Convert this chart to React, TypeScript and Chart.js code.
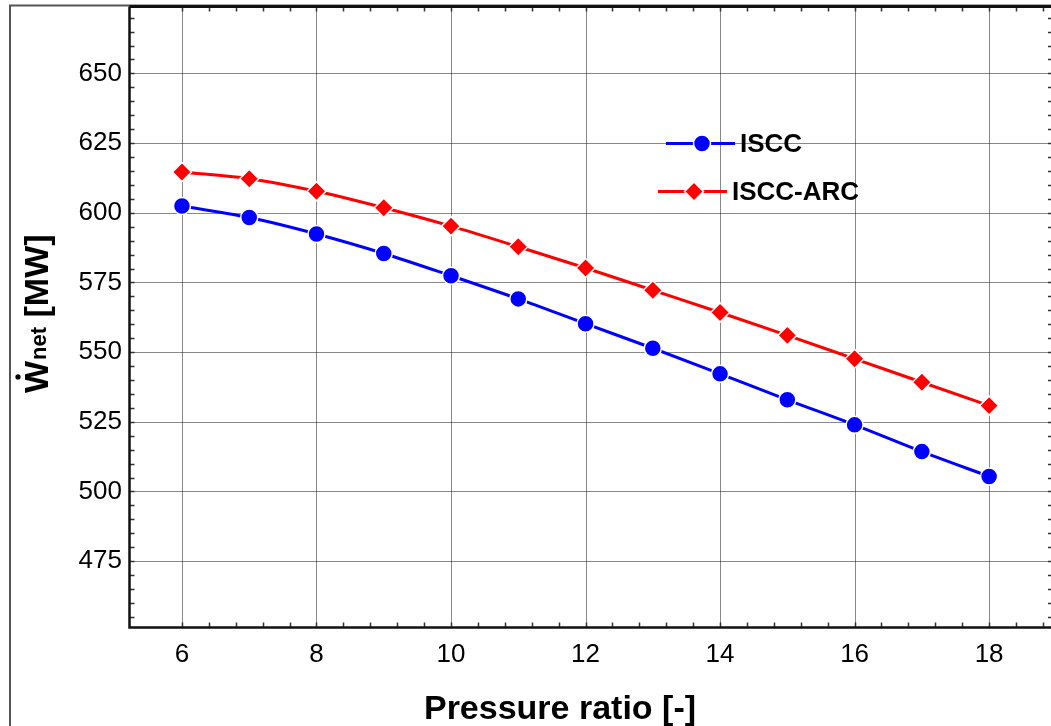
import React, { useEffect, useRef } from 'react';
import { Chart, registerables } from 'chart.js';

Chart.register(...registerables);

// ---- data ----
const pressureRatio = [6, 7, 8, 9, 10, 11, 12, 13, 14, 15, 16, 17, 18];
const isccValues = [602.4, 598.3, 592.4, 585.4, 577.4, 569.1, 560.2, 551.4, 542.2, 532.9, 523.9, 514.3, 505.4];
const isccArcValues = [614.6, 612.2, 607.7, 601.8, 595.2, 587.8, 580.2, 572.2, 564.2, 556.0, 547.6, 539.2, 530.8];
const seriesLabels = ['ISCC', 'ISCC-ARC'];
const xTickValues = [6, 8, 10, 12, 14, 16, 18];
const yTickValues = [475, 500, 525, 550, 575, 600, 625, 650];
const xMinorStep = 0.4;
const yMinorStep = 5;
const xTitle = 'Pressure ratio [-]';
const yTitleMain = 'W';
const yTitleSub = 'net';
const yTitleUnit = ' [MW]';

const FONT = "'Liberation Sans', Arial, Helvetica, sans-serif";

const decorPlugin = {
  id: 'decor',
  beforeDatasetsDraw(chart: any) {
    const { ctx, chartArea: ca, scales } = chart;
    const x = scales.x;
    const y = scales.y;
    ctx.save();
    ctx.strokeStyle = '#111';
    ctx.lineWidth = 1;
    ctx.setLineDash([1, 1]);
    for (const v of xTickValues) {
      const px = Math.round(x.getPixelForValue(v)) + 0.5;
      ctx.beginPath();
      ctx.moveTo(px, ca.top);
      ctx.lineTo(px, ca.bottom);
      ctx.stroke();
    }
    for (const v of yTickValues) {
      const py = Math.round(y.getPixelForValue(v)) + 0.5;
      ctx.beginPath();
      ctx.moveTo(ca.left, py);
      ctx.lineTo(ca.right, py);
      ctx.stroke();
    }
    ctx.restore();
  },
  afterDatasetsDraw(chart: any) {
    const { ctx, chartArea: ca, scales } = chart;
    const x = scales.x;
    const y = scales.y;
    ctx.save();
    ctx.setLineDash([]);

    // minor ticks
    ctx.strokeStyle = '#333';
    ctx.lineWidth = 1.5;
    const tl = 5;
    for (let v = xTickValues[0]; v <= x.max + 1e-9; v += xMinorStep) {
      const px = Math.round(x.getPixelForValue(v)) + 0.5;
      ctx.beginPath();
      ctx.moveTo(px, ca.bottom);
      ctx.lineTo(px, ca.bottom - tl);
      ctx.moveTo(px, ca.top);
      ctx.lineTo(px, ca.top + tl);
      ctx.stroke();
    }
    for (let v = Math.ceil(y.min / yMinorStep) * yMinorStep; v <= y.max; v += yMinorStep) {
      const py = Math.round(y.getPixelForValue(v)) + 0.5;
      ctx.beginPath();
      ctx.moveTo(ca.left, py);
      ctx.lineTo(ca.left + tl, py);
      ctx.moveTo(ca.right, py);
      ctx.lineTo(ca.right - 3, py);
      ctx.stroke();
    }

    // outer frame
    ctx.strokeStyle = '#555';
    ctx.lineWidth = 2;
    ctx.beginPath();
    ctx.moveTo(10, 726);
    ctx.lineTo(10, 5.5);
    ctx.lineTo(1051, 5.5);
    ctx.stroke();

    // axes lines
    ctx.strokeStyle = '#111';
    ctx.lineWidth = 3;
    ctx.beginPath();
    ctx.moveTo(ca.left, ca.top);
    ctx.lineTo(ca.right, ca.top);
    ctx.stroke();
    ctx.lineWidth = 2.5;
    ctx.beginPath();
    ctx.moveTo(ca.left, ca.top);
    ctx.lineTo(ca.left, ca.bottom);
    ctx.lineTo(ca.right, ca.bottom);
    ctx.stroke();

    // legend
    const legendPos = [
      { lx0: 666, lx1: 735, mx: 702, ly: 143.5, tx: 740 },
      { lx0: 658, lx1: 727, mx: 694, ly: 191.5, tx: 732 },
    ];
    chart.data.datasets.forEach((ds: any, i: number) => {
      const p = legendPos[i];
      ctx.strokeStyle = ds.borderColor;
      ctx.lineWidth = ds.borderWidth;
      ctx.beginPath();
      ctx.moveTo(p.lx0, p.ly);
      ctx.lineTo(p.lx1, p.ly);
      ctx.stroke();
      ctx.fillStyle = ds.pointBackgroundColor;
      ctx.strokeStyle = '#fff';
      ctx.lineWidth = 1.5;
      ctx.beginPath();
      if (ds.pointStyle === 'rectRot') {
        const r = ds.pointRadius;
        ctx.moveTo(p.mx, p.ly - r);
        ctx.lineTo(p.mx + r, p.ly);
        ctx.lineTo(p.mx, p.ly + r);
        ctx.lineTo(p.mx - r, p.ly);
        ctx.closePath();
      } else {
        ctx.arc(p.mx, p.ly, ds.pointRadius, 0, Math.PI * 2);
      }
      ctx.fill();
      ctx.stroke();
      ctx.fillStyle = '#000';
      ctx.font = `bold 26px ${FONT}`;
      ctx.textAlign = 'left';
      ctx.textBaseline = 'middle';
      ctx.fillText(ds.label, p.tx, p.ly + 1);
    });

    // x title
    ctx.fillStyle = '#000';
    ctx.font = `bold 34px ${FONT}`;
    ctx.textAlign = 'center';
    ctx.textBaseline = 'alphabetic';
    ctx.fillText(xTitle, 560, 719);

    // y title (rotated)
    ctx.save();
    ctx.translate(48, 393);
    ctx.rotate(-Math.PI / 2);
    ctx.textAlign = 'left';
    ctx.textBaseline = 'alphabetic';
    ctx.font = `bold 34px ${FONT}`;
    ctx.fillText(yTitleMain, 0, 0);
    const wW = ctx.measureText(yTitleMain).width;
    ctx.beginPath();
    ctx.arc(wW * 0.5, -30, 2.6, 0, Math.PI * 2);
    ctx.fill();
    ctx.font = `bold 22px ${FONT}`;
    ctx.fillText(yTitleSub, wW + 1, -2);
    const wSub = ctx.measureText(yTitleSub).width;
    ctx.font = `bold 34px ${FONT}`;
    ctx.fillText(yTitleUnit, wW + 1 + wSub, 0);
    ctx.restore();

    ctx.restore();
  },
};

export default function App() {
  const ref = useRef<HTMLCanvasElement>(null);

  useEffect(() => {
    if (!ref.current) return;
    const chart = new Chart(ref.current, {
      type: 'line',
      data: {
        datasets: [
          {
            label: seriesLabels[0],
            data: pressureRatio.map((p, i) => ({ x: p, y: isccValues[i] })),
            borderColor: '#0000ff',
            backgroundColor: '#0000ff',
            borderWidth: 3,
            pointStyle: 'circle',
            pointRadius: 8.5,
            pointBackgroundColor: '#0000ff',
            pointBorderColor: '#ffffff',
            pointBorderWidth: 1.5,
            cubicInterpolationMode: 'monotone',
            fill: false,
          },
          {
            label: seriesLabels[1],
            data: pressureRatio.map((p, i) => ({ x: p, y: isccArcValues[i] })),
            borderColor: '#ff0000',
            backgroundColor: '#ff0000',
            borderWidth: 3,
            pointStyle: 'rectRot',
            pointRadius: 9.5,
            pointBackgroundColor: '#ff0000',
            pointBorderColor: '#ffffff',
            pointBorderWidth: 1.5,
            cubicInterpolationMode: 'monotone',
            fill: false,
          },
        ],
      },
      options: {
        responsive: false,
        animation: false,
        devicePixelRatio: 1,
        layout: { autoPadding: false, padding: { left: 9, top: 6.5, right: 0, bottom: 0 } },
        plugins: { legend: { display: false }, tooltip: { enabled: false }, title: { display: false } },
        scales: {
          x: {
            type: 'linear',
            min: 5.22,
            max: 18.92,
            grid: { display: false, drawTicks: false },
            border: { display: false },
            afterBuildTicks: (s: any) => {
              s.ticks = xTickValues.map((v) => ({ value: v }));
            },
            afterFit: (s: any) => {
              s.height = 98.5;
              s.paddingLeft = 0;
              s.paddingRight = 0;
            },
            ticks: {
              color: '#000',
              padding: 12,
              maxRotation: 0,
              autoSkip: false,
              font: { family: FONT, size: 26 },
            },
          },
          y: {
            type: 'linear',
            min: 451.2,
            max: 674,
            grid: { display: false, drawTicks: false },
            border: { display: false },
            afterBuildTicks: (s: any) => {
              s.ticks = yTickValues.map((v) => ({ value: v }));
            },
            afterFit: (s: any) => {
              s.width = 120.5;
              s.paddingTop = 0;
              s.paddingBottom = 0;
            },
            ticks: {
              color: '#000',
              padding: 7.5,
              autoSkip: false,
              font: { family: FONT, size: 26 },
            },
          },
        },
      },
      plugins: [decorPlugin],
    } as any);
    return () => chart.destroy();
  }, []);

  return (
    <div style={{ position: 'absolute', left: 0, top: 0, width: 1051, height: 726, background: '#fff', overflow: 'hidden' }}>
      <canvas ref={ref} width={1051} height={726} style={{ display: 'block', width: 1051, height: 726 }} />
    </div>
  );
}
